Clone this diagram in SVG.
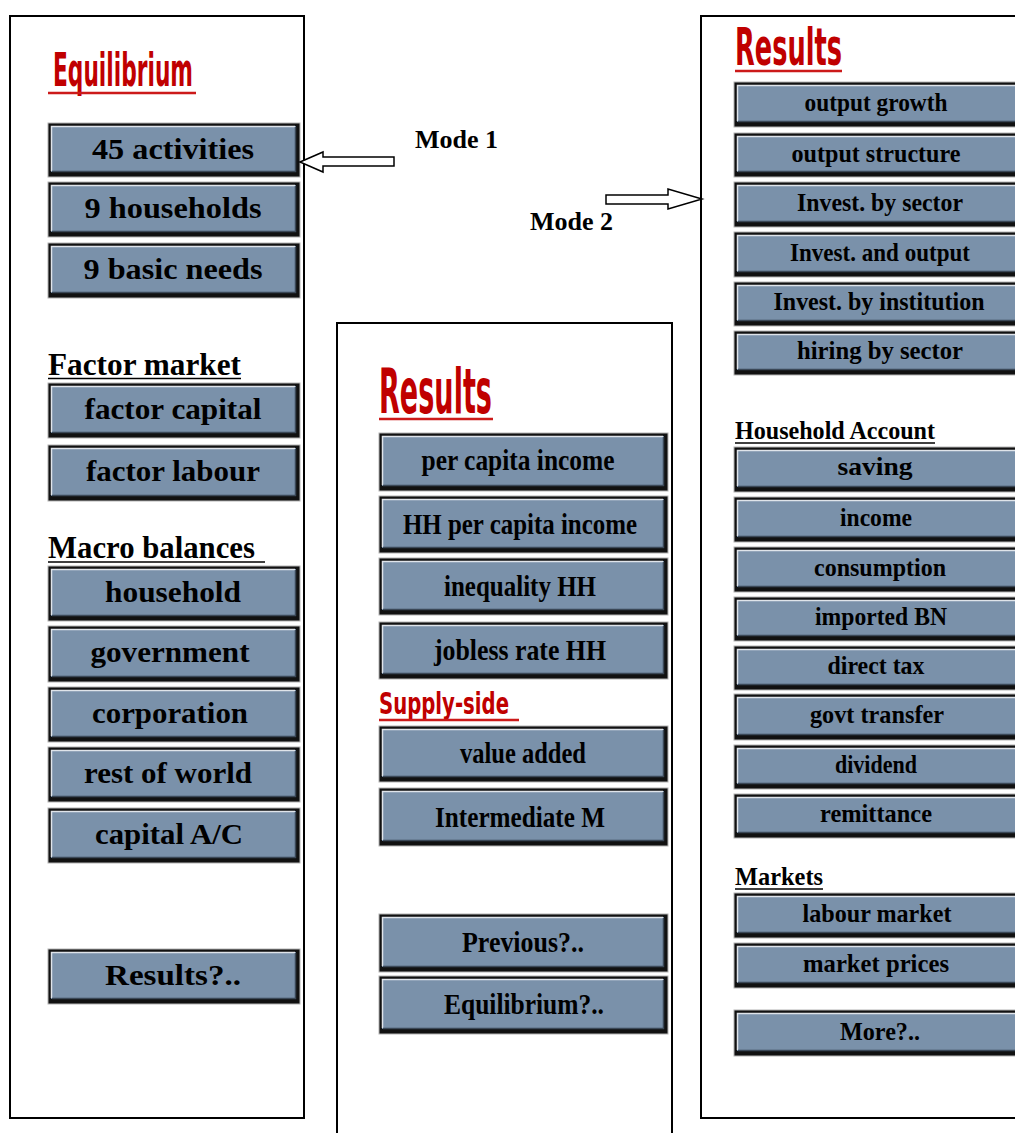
<svg xmlns="http://www.w3.org/2000/svg" width="1015" height="1133" viewBox="0 0 1015 1133">
  <style>
    .panel { fill: #ffffff; stroke: #000000; stroke-width: 2; }
    .bo { fill: #111111; stroke: #b4b4b4; stroke-width: 1; }
    .bf { fill: #7a91aa; }
    .hl { fill: none; stroke: #dfe4ea; stroke-width: 1.5; }
    .sh { fill: none; stroke: #3b4857; stroke-width: 1.5; }
    .lbl { font-family: "Liberation Serif", "DejaVu Serif", serif; font-weight: bold; fill: #000000; text-anchor: middle; }
    .l1 { font-size: 30px; }
    .l2 { font-size: 25px; }
    .head { font-family: "Liberation Serif", "DejaVu Serif", serif; font-weight: bold; fill: #000000; }
    .title { font-family: "Liberation Sans Narrow", "DejaVu Sans Condensed", "Liberation Sans", sans-serif; font-weight: bold; fill: #c00000; }
    .ul { stroke: #000000; stroke-width: 1.5; }
    .ulr { stroke: #cc1a1a; stroke-width: 2.5; }
    .mode { font-family: "Liberation Serif", "Times New Roman", serif; font-weight: bold; font-size: 26px; fill: #000000; }
    .arrow { fill: #ffffff; stroke: #000000; stroke-width: 1.5; stroke-linejoin: miter; }
  </style>

  <!-- ===== Mode 1 panel: Equilibrium ===== -->
  <g id="panel-equilibrium">
    <rect class="panel" x="10" y="16" width="294" height="1102"/>
    <text class="title" x="53" y="86" font-size="47" textLength="140" lengthAdjust="spacingAndGlyphs">Equilibrium</text>
    <line class="ulr" x1="48" y1="93" x2="196" y2="93"/>
    <text class="head" x="48" y="375" font-size="31" textLength="193" lengthAdjust="spacingAndGlyphs">Factor market</text>
    <line class="ul" x1="48" y1="378.5" x2="241" y2="378.5"/>
    <text class="head" x="48" y="558" font-size="31" textLength="207" lengthAdjust="spacingAndGlyphs">Macro balances</text>
    <line class="ul" x1="48" y1="562" x2="265" y2="562"/>
  </g>

  <g id="btn-45-activities">
    <rect class="bo" x="48" y="123" width="252" height="54"/><rect class="bf" x="51" y="126" width="245" height="46"/>
    <path class="hl" d="M51.5 171 V126.5 H295"/><path class="sh" d="M52 171.5 H295.5 V127"/>
    <text class="lbl l1" x="173" y="159" textLength="162" lengthAdjust="spacingAndGlyphs">45 activities</text>
  </g>
  <g id="btn-9-households">
    <rect class="bo" x="48" y="182" width="252" height="55"/><rect class="bf" x="51" y="185" width="245" height="47"/>
    <path class="hl" d="M51.5 231 V185.5 H295"/><path class="sh" d="M52 231.5 H295.5 V186"/>
    <text class="lbl l1" x="173" y="218" textLength="177" lengthAdjust="spacingAndGlyphs">9 households</text>
  </g>
  <g id="btn-9-basic-needs">
    <rect class="bo" x="48" y="243" width="252" height="55"/><rect class="bf" x="51" y="246" width="245" height="47"/>
    <path class="hl" d="M51.5 292 V246.5 H295"/><path class="sh" d="M52 292.5 H295.5 V247"/>
    <text class="lbl l1" x="173" y="279" textLength="179" lengthAdjust="spacingAndGlyphs">9 basic needs</text>
  </g>
  <g id="btn-factor-capital">
    <rect class="bo" x="48" y="383" width="252" height="55"/><rect class="bf" x="51" y="386" width="245" height="47"/>
    <path class="hl" d="M51.5 432 V386.5 H295"/><path class="sh" d="M52 432.5 H295.5 V387"/>
    <text class="lbl l1" x="173" y="419" textLength="177" lengthAdjust="spacingAndGlyphs">factor capital</text>
  </g>
  <g id="btn-factor-labour">
    <rect class="bo" x="48" y="445" width="252" height="56"/><rect class="bf" x="51" y="448" width="245" height="48"/>
    <path class="hl" d="M51.5 495 V448.5 H295"/><path class="sh" d="M52 495.5 H295.5 V449"/>
    <text class="lbl l1" x="173" y="481" textLength="174" lengthAdjust="spacingAndGlyphs">factor labour</text>
  </g>
  <g id="btn-household">
    <rect class="bo" x="48" y="566" width="252" height="55"/><rect class="bf" x="51" y="569" width="245" height="47"/>
    <path class="hl" d="M51.5 615 V569.5 H295"/><path class="sh" d="M52 615.5 H295.5 V570"/>
    <text class="lbl l1" x="173" y="602" textLength="136" lengthAdjust="spacingAndGlyphs">household</text>
  </g>
  <g id="btn-government">
    <rect class="bo" x="48" y="626" width="252" height="56"/><rect class="bf" x="51" y="629" width="245" height="48"/>
    <path class="hl" d="M51.5 676 V629.5 H295"/><path class="sh" d="M52 676.5 H295.5 V630"/>
    <text class="lbl l1" x="170" y="662" textLength="159" lengthAdjust="spacingAndGlyphs">government</text>
  </g>
  <g id="btn-corporation">
    <rect class="bo" x="48" y="687" width="252" height="55"/><rect class="bf" x="51" y="690" width="245" height="47"/>
    <path class="hl" d="M51.5 736 V690.5 H295"/><path class="sh" d="M52 736.5 H295.5 V691"/>
    <text class="lbl l1" x="170" y="723" textLength="156" lengthAdjust="spacingAndGlyphs">corporation</text>
  </g>
  <g id="btn-rest-of-world">
    <rect class="bo" x="48" y="747" width="252" height="55"/><rect class="bf" x="51" y="750" width="245" height="47"/>
    <path class="hl" d="M51.5 796 V750.5 H295"/><path class="sh" d="M52 796.5 H295.5 V751"/>
    <text class="lbl l1" x="168" y="783" textLength="168" lengthAdjust="spacingAndGlyphs">rest of world</text>
  </g>
  <g id="btn-capital-ac">
    <rect class="bo" x="48" y="808" width="252" height="55"/><rect class="bf" x="51" y="811" width="245" height="47"/>
    <path class="hl" d="M51.5 857 V811.5 H295"/><path class="sh" d="M52 857.5 H295.5 V812"/>
    <text class="lbl l1" x="169" y="844" textLength="148" lengthAdjust="spacingAndGlyphs">capital A/C</text>
  </g>
  <g id="btn-results">
    <rect class="bo" x="48" y="949" width="252" height="55"/><rect class="bf" x="51" y="952" width="245" height="47"/>
    <path class="hl" d="M51.5 998 V952.5 H295"/><path class="sh" d="M52 998.5 H295.5 V953"/>
    <text class="lbl l1" x="173" y="985" textLength="136" lengthAdjust="spacingAndGlyphs">Results?..</text>
  </g>

  <!-- ===== Results panel (household results) ===== -->
  <g id="panel-results-hh">
    <rect class="panel" x="337" y="323" width="335" height="840"/>
    <text class="title" x="379" y="413" font-size="63" textLength="113" lengthAdjust="spacingAndGlyphs">Results</text>
    <line class="ulr" x1="379" y1="419" x2="493" y2="419"/>
    <text class="title" x="379" y="714" font-size="30" textLength="130" lengthAdjust="spacingAndGlyphs">Supply-side</text>
    <line class="ulr" x1="379" y1="720" x2="519" y2="720"/>
  </g>

  <g id="btn-per-capita-income">
    <rect class="bo" x="379" y="433" width="289" height="58"/><rect class="bf" x="382" y="436" width="282" height="50"/>
    <path class="hl" d="M382.5 485 V436.5 H663"/><path class="sh" d="M383 485.5 H663.5 V437"/>
    <text class="lbl l1" x="518" y="470" textLength="193" lengthAdjust="spacingAndGlyphs">per capita income</text>
  </g>
  <g id="btn-hh-per-capita-income">
    <rect class="bo" x="379" y="496" width="289" height="57"/><rect class="bf" x="382" y="499" width="282" height="49"/>
    <path class="hl" d="M382.5 547 V499.5 H663"/><path class="sh" d="M383 547.5 H663.5 V500"/>
    <text class="lbl l1" x="520" y="534" textLength="234" lengthAdjust="spacingAndGlyphs">HH per capita income</text>
  </g>
  <g id="btn-inequality-hh">
    <rect class="bo" x="379" y="558" width="289" height="57"/><rect class="bf" x="382" y="561" width="282" height="49"/>
    <path class="hl" d="M382.5 609 V561.5 H663"/><path class="sh" d="M383 609.5 H663.5 V562"/>
    <text class="lbl l1" x="520" y="596" textLength="152" lengthAdjust="spacingAndGlyphs">inequality HH</text>
  </g>
  <g id="btn-jobless-rate-hh">
    <rect class="bo" x="379" y="622" width="289" height="57"/><rect class="bf" x="382" y="625" width="282" height="49"/>
    <path class="hl" d="M382.5 673 V625.5 H663"/><path class="sh" d="M383 673.5 H663.5 V626"/>
    <text class="lbl l1" x="520" y="660" textLength="172" lengthAdjust="spacingAndGlyphs">jobless rate HH</text>
  </g>
  <g id="btn-value-added">
    <rect class="bo" x="379" y="726" width="289" height="56"/><rect class="bf" x="382" y="729" width="282" height="48"/>
    <path class="hl" d="M382.5 776 V729.5 H663"/><path class="sh" d="M383 776.5 H663.5 V730"/>
    <text class="lbl l1" x="523" y="763" textLength="126" lengthAdjust="spacingAndGlyphs">value added</text>
  </g>
  <g id="btn-intermediate-m">
    <rect class="bo" x="379" y="788" width="289" height="58"/><rect class="bf" x="382" y="791" width="282" height="50"/>
    <path class="hl" d="M382.5 840 V791.5 H663"/><path class="sh" d="M383 840.5 H663.5 V792"/>
    <text class="lbl l1" x="520" y="827" textLength="170" lengthAdjust="spacingAndGlyphs">Intermediate M</text>
  </g>
  <g id="btn-previous">
    <rect class="bo" x="379" y="914" width="289" height="58"/><rect class="bf" x="382" y="917" width="282" height="50"/>
    <path class="hl" d="M382.5 966 V917.5 H663"/><path class="sh" d="M383 966.5 H663.5 V918"/>
    <text class="lbl l1" x="523" y="952" textLength="122" lengthAdjust="spacingAndGlyphs">Previous?..</text>
  </g>
  <g id="btn-equilibrium">
    <rect class="bo" x="379" y="976" width="289" height="58"/><rect class="bf" x="382" y="979" width="282" height="50"/>
    <path class="hl" d="M382.5 1028 V979.5 H663"/><path class="sh" d="M383 1028.5 H663.5 V980"/>
    <text class="lbl l1" x="524" y="1014" textLength="160" lengthAdjust="spacingAndGlyphs">Equilibrium?..</text>
  </g>

  <!-- ===== Mode 2 panel: sector results ===== -->
  <g id="panel-results-sector">
    <rect class="panel" x="701" y="16" width="400" height="1102"/>
    <text class="title" x="735" y="65" font-size="51" textLength="107" lengthAdjust="spacingAndGlyphs">Results</text>
    <line class="ulr" x1="735" y1="71" x2="842" y2="71"/>
    <text class="head" x="735" y="439" font-size="26" textLength="200" lengthAdjust="spacingAndGlyphs">Household Account</text>
    <line class="ul" x1="735" y1="443" x2="935" y2="443"/>
    <text class="head" x="735" y="885" font-size="26" textLength="88" lengthAdjust="spacingAndGlyphs">Markets</text>
    <line class="ul" x1="735" y1="889" x2="823" y2="889"/>
  </g>

  <g id="btn-output-growth">
    <rect class="bo" x="734" y="82" width="300" height="45"/><rect class="bf" x="737" y="85" width="300" height="37"/>
    <path class="hl" d="M737.5 121 V85.5 H1015"/><path class="sh" d="M738 121.5 H1015"/>
    <text class="lbl l2" x="876" y="111" textLength="143" lengthAdjust="spacingAndGlyphs">output growth</text>
  </g>
  <g id="btn-output-structure">
    <rect class="bo" x="734" y="133" width="300" height="44"/><rect class="bf" x="737" y="136" width="300" height="36"/>
    <path class="hl" d="M737.5 171 V136.5 H1015"/><path class="sh" d="M738 171.5 H1015"/>
    <text class="lbl l2" x="876" y="162" textLength="169" lengthAdjust="spacingAndGlyphs">output structure</text>
  </g>
  <g id="btn-invest-by-sector">
    <rect class="bo" x="734" y="182" width="300" height="45"/><rect class="bf" x="737" y="185" width="300" height="37"/>
    <path class="hl" d="M737.5 221 V185.5 H1015"/><path class="sh" d="M738 221.5 H1015"/>
    <text class="lbl l2" x="880" y="211" textLength="166" lengthAdjust="spacingAndGlyphs">Invest. by sector</text>
  </g>
  <g id="btn-invest-and-output">
    <rect class="bo" x="734" y="232" width="300" height="45"/><rect class="bf" x="737" y="235" width="300" height="37"/>
    <path class="hl" d="M737.5 271 V235.5 H1015"/><path class="sh" d="M738 271.5 H1015"/>
    <text class="lbl l2" x="880" y="261" textLength="180" lengthAdjust="spacingAndGlyphs">Invest. and output</text>
  </g>
  <g id="btn-invest-by-institution">
    <rect class="bo" x="734" y="282" width="300" height="44"/><rect class="bf" x="737" y="285" width="300" height="36"/>
    <path class="hl" d="M737.5 320 V285.5 H1015"/><path class="sh" d="M738 320.5 H1015"/>
    <text class="lbl l2" x="879" y="310" textLength="211" lengthAdjust="spacingAndGlyphs">Invest. by institution</text>
  </g>
  <g id="btn-hiring-by-sector">
    <rect class="bo" x="734" y="331" width="300" height="44"/><rect class="bf" x="737" y="334" width="300" height="36"/>
    <path class="hl" d="M737.5 369 V334.5 H1015"/><path class="sh" d="M738 369.5 H1015"/>
    <text class="lbl l2" x="880" y="359" textLength="166" lengthAdjust="spacingAndGlyphs">hiring by sector</text>
  </g>
  <g id="btn-saving">
    <rect class="bo" x="734" y="447" width="300" height="45"/><rect class="bf" x="737" y="450" width="300" height="37"/>
    <path class="hl" d="M737.5 486 V450.5 H1015"/><path class="sh" d="M738 486.5 H1015"/>
    <text class="lbl l2" x="875" y="475" textLength="75" lengthAdjust="spacingAndGlyphs">saving</text>
  </g>
  <g id="btn-income">
    <rect class="bo" x="734" y="497" width="300" height="45"/><rect class="bf" x="737" y="500" width="300" height="37"/>
    <path class="hl" d="M737.5 536 V500.5 H1015"/><path class="sh" d="M738 536.5 H1015"/>
    <text class="lbl l2" x="876" y="526" textLength="72" lengthAdjust="spacingAndGlyphs">income</text>
  </g>
  <g id="btn-consumption">
    <rect class="bo" x="734" y="547" width="300" height="45"/><rect class="bf" x="737" y="550" width="300" height="37"/>
    <path class="hl" d="M737.5 586 V550.5 H1015"/><path class="sh" d="M738 586.5 H1015"/>
    <text class="lbl l2" x="880" y="576" textLength="132" lengthAdjust="spacingAndGlyphs">consumption</text>
  </g>
  <g id="btn-imported-bn">
    <rect class="bo" x="734" y="597" width="300" height="44"/><rect class="bf" x="737" y="600" width="300" height="36"/>
    <path class="hl" d="M737.5 635 V600.5 H1015"/><path class="sh" d="M738 635.5 H1015"/>
    <text class="lbl l2" x="881" y="625" textLength="132" lengthAdjust="spacingAndGlyphs">imported BN</text>
  </g>
  <g id="btn-direct-tax">
    <rect class="bo" x="734" y="646" width="300" height="44"/><rect class="bf" x="737" y="649" width="300" height="36"/>
    <path class="hl" d="M737.5 684 V649.5 H1015"/><path class="sh" d="M738 684.5 H1015"/>
    <text class="lbl l2" x="876" y="674" textLength="97" lengthAdjust="spacingAndGlyphs">direct tax</text>
  </g>
  <g id="btn-govt-transfer">
    <rect class="bo" x="734" y="694" width="300" height="46"/><rect class="bf" x="737" y="697" width="300" height="38"/>
    <path class="hl" d="M737.5 734 V697.5 H1015"/><path class="sh" d="M738 734.5 H1015"/>
    <text class="lbl l2" x="877" y="723" textLength="134" lengthAdjust="spacingAndGlyphs">govt transfer</text>
  </g>
  <g id="btn-dividend">
    <rect class="bo" x="734" y="745" width="300" height="44"/><rect class="bf" x="737" y="748" width="300" height="36"/>
    <path class="hl" d="M737.5 783 V748.5 H1015"/><path class="sh" d="M738 783.5 H1015"/>
    <text class="lbl l2" x="876" y="773" textLength="82" lengthAdjust="spacingAndGlyphs">dividend</text>
  </g>
  <g id="btn-remittance">
    <rect class="bo" x="734" y="794" width="300" height="44"/><rect class="bf" x="737" y="797" width="300" height="36"/>
    <path class="hl" d="M737.5 832 V797.5 H1015"/><path class="sh" d="M738 832.5 H1015"/>
    <text class="lbl l2" x="876" y="822" textLength="112" lengthAdjust="spacingAndGlyphs">remittance</text>
  </g>
  <g id="btn-labour-market">
    <rect class="bo" x="734" y="893" width="300" height="45"/><rect class="bf" x="737" y="896" width="300" height="37"/>
    <path class="hl" d="M737.5 932 V896.5 H1015"/><path class="sh" d="M738 932.5 H1015"/>
    <text class="lbl l2" x="877" y="922" textLength="149" lengthAdjust="spacingAndGlyphs">labour market</text>
  </g>
  <g id="btn-market-prices">
    <rect class="bo" x="734" y="943" width="300" height="45"/><rect class="bf" x="737" y="946" width="300" height="37"/>
    <path class="hl" d="M737.5 982 V946.5 H1015"/><path class="sh" d="M738 982.5 H1015"/>
    <text class="lbl l2" x="876" y="972" textLength="146" lengthAdjust="spacingAndGlyphs">market prices</text>
  </g>
  <g id="btn-more">
    <rect class="bo" x="734" y="1010" width="300" height="46"/><rect class="bf" x="737" y="1013" width="300" height="38"/>
    <path class="hl" d="M737.5 1050 V1013.5 H1015"/><path class="sh" d="M738 1050.5 H1015"/>
    <text class="lbl l2" x="880" y="1040" textLength="80" lengthAdjust="spacingAndGlyphs">More?..</text>
  </g>

  <!-- ===== Mode arrows pointing into the two entry panels ===== -->
  <g id="connectors">
    <polygon class="arrow" points="300,162 323,152 323,157 394,157 394,166 323,166 323,172"/>
    <text class="mode" x="415" y="148">Mode 1</text>
    <polygon class="arrow" points="606,195 668,195 668,189 702,199 668,209 668,204 606,204"/>
    <text class="mode" x="530" y="230">Mode 2</text>
  </g>
</svg>
